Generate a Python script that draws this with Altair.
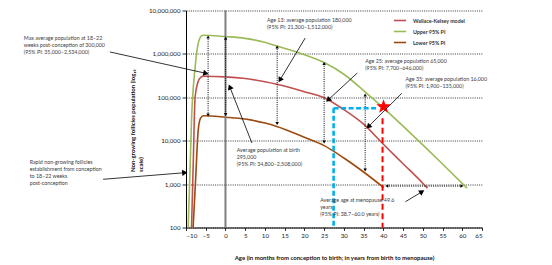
import math
import altair as alt
import pandas as pd

# ---------------- data ----------------
series_names = ["Wallace-Kelsey model", "Upper 95% PI", "Lower 95% PI"]
series_colors = ["#c0504d", "#9bbb59", "#9c4a0e"]

age_model = [-8.6, -8.15, -7.7, -7.0, -6.5, -5.6, 0, 5, 10, 13, 20, 25, 30, 35, 40, 45, 50, 51.2]
pop_model = [100, 3300, 100000, 220000, 275000, 305000, 295000, 270000, 229000, 200000, 135000, 98000, 52000, 24000, 8300, 2950, 1050, 800]

age_upper = [-9.45, -9.0, -8.6, -7.75, -7.0, -6.4, -5.8, 0, 5, 10, 13, 18, 25, 30, 35, 40, 45, 50, 55, 61.2]
pop_upper = [100, 1800, 30000, 430000, 1600000, 2400000, 2700000, 2508000, 2280000, 1850000, 1512000, 1100000, 631000, 340000, 143000, 57000, 21600, 8000, 2900, 810]

age_lower = [-8.2, -7.55, -6.9, -6.3, -5.6, 0, 5, 10, 13, 20, 25, 30, 35, 40.1]
pop_lower = [100, 1350, 17600, 33000, 37500, 34800, 31500, 25500, 21300, 12000, 7700, 4000, 1900, 830]

x_ticks = list(range(-10, 70, 5))
y_ticks = [100, 1000, 10000, 100000, 1000000, 10000000]

# dotted double arrows (vertical)
dv_x = [-4.4, 0.05, 13.1, 25.0, 35.4]
dv_top = [2450000, 2300000, 1450000, 600000, 113000]
dv_bot = [39000, 40000, 25000, 9300, 2100]
# dotted double arrow (horizontal)
dh_x1, dh_x2, dh_y = [40.9], [59.9], [900]

# solid annotation arrows
sa_x1 = [-29.3, 20.2, 6.7, 33.4, 44.7, 45.6, -31.0]
sa_y1 = [1110000, 2320000, 8850, 363000, 124000, 393, 1291]
sa_x2 = [-4.95, 13.8, 1.1, 26.0, 36.2, 49.8, -10.3]
sa_y2 = [357000, 250000, 173000, 86700, 21000, 668, 1832]

# blue dashed box edge, red dashed line, star
blue_x1 = [27.4, 27.4]
blue_x2 = [27.4, 38.4]
blue_y1 = [55800, 55800]
blue_y2 = [100, 55800]
red_x, red_y1, red_y2 = [39.8], [32800], [100]
star_x, star_y = [40.05], [60700]

# annotation texts
tx = [-51.1, 10.5, 2.84, 35.4, 45.6, 24.0, -49.6]
ty = [2650000, 6700000, 6790, 783000, 294000, 479, 3500]
texts = [
    "Max average  population at 18–22\nweeks  post-conception of 300,000\n(95% PI: 35,000–2,534,000)",
    "Age 13: average  population 180,000\n(95% PI: 21,300–1,512,000)",
    "Average  population at birth\n295,000\n(95% PI: 34,800–2,508,000)",
    "Age 25: average  population 65,000\n(95% PI: 7,700–646,000)",
    "Age 35: average population 16,000\n(95% PI: 1,900–135,000)",
    "Average  age at menopause 49.6\nyears\n(95% PI: 38.7–60.0 years)",
    "Rapid non-growing follicles\nestablishment from conception\nto 18–22 weeks\npost-conception",
]

# ---------------- chart ----------------
W, H = 296, 217
FONT = "Lato"
STAR = ("M0,-1L0.235,-0.324L0.951,-0.309L0.38,0.124L0.588,0.809L0,0.4"
        "L-0.588,0.809L-0.38,0.124L-0.951,-0.309L-0.235,-0.324Z")
xs = alt.Scale(domain=[-10, 65], nice=False, zero=False)
ys = alt.Scale(type="log", domain=[100, 10000000], nice=False)

x_axis = alt.Axis(values=x_ticks, format="d",
                  labelExpr="replace(datum.label, '-', '−')",
                  title="Age (in months from conception to birth; in years from birth to menopause)",
                  grid=False, tickSize=3, labelPadding=2, titlePadding=16)
y_axis = alt.Axis(values=y_ticks, format=",d", grid=True, gridDash=[1, 1.2],
                  gridColor="#000000", gridWidth=0.8, tickSize=4, labelPadding=2,
                  title=["Non-growing follicles population (log₁₀", "scale)"],
                  titleAngle=270, titleAlign="left", titleBaseline="top",
                  titleX=-57, titleY=161)


def X(f):
    return alt.X(f, scale=xs, axis=x_axis)


def Y(f):
    return alt.Y(f, scale=ys, axis=y_axis)


def px(x):
    return (x + 10) / 75 * W


def py(y):
    return H * (1 - (math.log10(y) - 2) / 5)


def heading(x1, y1, x2, y2):
    dx = px(x2) - px(x1)
    dy = py(y2) - py(y1)
    return math.degrees(math.atan2(dx, -dy)) % 360


rows = []
for name, xa, ya in [(series_names[0], age_model, pop_model),
                     (series_names[1], age_upper, pop_upper),
                     (series_names[2], age_lower, pop_lower)]:
    for i, (a, p) in enumerate(zip(xa, ya)):
        rows.append({"series": name, "age": a, "pop": p, "order": i})
curves_df = pd.DataFrame(rows)

curves = alt.Chart(curves_df).mark_line(interpolate="monotone", strokeWidth=1.6).encode(
    x=X("age:Q"),
    y=Y("pop:Q"),
    color=alt.Color("series:N",
                    scale=alt.Scale(domain=series_names, range=series_colors),
                    legend=alt.Legend(orient="none", legendX=207, legendY=3, title=None,
                                      symbolType="stroke", symbolSize=150, symbolStrokeWidth=1.6,
                                      rowPadding=0, labelFontSize=5.3, labelFont=FONT,
                                      labelFontWeight="bold", labelColor="#333333",
                                      labelOffset=6)),
    order="order:Q",
    detail="series:N",
)

zero_line = alt.Chart(pd.DataFrame({"x": [0]})).mark_rule(color="#7f7f7f", strokeWidth=2).encode(
    x=X("x:Q")
)

dv_df = pd.DataFrame({"x": dv_x, "y1": dv_top, "y2": dv_bot})
dh_df = pd.DataFrame({"x1": dh_x1, "x2": dh_x2, "y": dh_y})
dotted_v = alt.Chart(dv_df).mark_rule(strokeDash=[1, 1.2], strokeWidth=1, color="black").encode(
    x=X("x:Q"), y=Y("y1:Q"), y2="y2:Q")
dotted_h = alt.Chart(dh_df).mark_rule(strokeDash=[1, 1.2], strokeWidth=1, color="black").encode(
    x=X("x1:Q"), x2="x2:Q", y=Y("y:Q"))

heads = []
for x, t, b in zip(dv_x, dv_top, dv_bot):
    heads.append({"x": x, "y": t, "ang": 0})
    heads.append({"x": x, "y": b, "ang": 180})
for x1, x2, y in zip(dh_x1, dh_x2, dh_y):
    heads.append({"x": x1, "y": y, "ang": 270})
    heads.append({"x": x2, "y": y, "ang": 90})
small_heads = alt.Chart(pd.DataFrame(heads)).mark_point(
    shape="triangle-up", filled=True, color="black", opacity=1, size=12, strokeWidth=0).encode(
    x=X("x:Q"), y=Y("y:Q"), angle=alt.Angle("ang:Q", scale=None))

blue_df = pd.DataFrame({"x1": blue_x1, "x2": blue_x2, "y1": blue_y1, "y2": blue_y2})
blue = alt.Chart(blue_df).mark_rule(color="#00b0f0", strokeWidth=2.6, strokeDash=[5, 2.5]).encode(
    x=X("x1:Q"), x2="x2:Q", y=Y("y1:Q"), y2="y2:Q")

red_df = pd.DataFrame({"x": red_x, "y1": red_y1, "y2": red_y2})
red = alt.Chart(red_df).mark_rule(color="#ff0000", strokeWidth=2, strokeDash=[6, 3.5]).encode(
    x=X("x:Q"), y=Y("y1:Q"), y2="y2:Q")

star = alt.Chart(pd.DataFrame({"x": star_x, "y": star_y})).mark_point(
    shape=STAR, filled=True, color="#ff0000", opacity=1, size=230, strokeWidth=0).encode(
    x=X("x:Q"), y=Y("y:Q"))

sa_df = pd.DataFrame({"x1": sa_x1, "y1": sa_y1, "x2": sa_x2, "y2": sa_y2})
sa_df["ang"] = [heading(a, b, c, d) for a, b, c, d in zip(sa_x1, sa_y1, sa_x2, sa_y2)]
solid_lines = alt.Chart(sa_df).mark_rule(color="black", strokeWidth=0.8).encode(
    x=X("x1:Q"), x2="x2:Q", y=Y("y1:Q"), y2="y2:Q")
solid_heads = alt.Chart(sa_df).mark_point(
    shape="triangle-up", filled=True, color="black", opacity=1, size=38, strokeWidth=0).encode(
    x=X("x2:Q"), y=Y("y2:Q"), angle=alt.Angle("ang:Q", scale=None))

txt_df = pd.DataFrame({"x": tx, "y": ty, "t": texts})
annot = alt.Chart(txt_df).mark_text(
    align="left", baseline="top", lineBreak="\n", fontSize=5.3, lineHeight=7,
    font=FONT, color="#404040").encode(
    x=X("x:Q"), y=Y("y:Q"), text="t:N")

chart = alt.layer(
    curves, zero_line, dotted_v, dotted_h, small_heads, blue, red, star,
    solid_lines, solid_heads, annot
).properties(
    width=W, height=H,
    autosize=alt.AutoSizeParams(type="none"),
    padding={"left": 178, "top": 2.5, "right": 60, "bottom": 35},
    background="white",
).configure_view(stroke=None).configure_axis(
    domainColor="black", tickColor="black", labelFont=FONT, titleFont=FONT,
    labelFontSize=6.2, titleFontSize=6, titleFontWeight="bold", labelColor="#222222",
    titleColor="#111111", domainWidth=1, tickWidth=0.8,
)

chart.save("out.html", embed_options={"renderer": "svg", "actions": False})
